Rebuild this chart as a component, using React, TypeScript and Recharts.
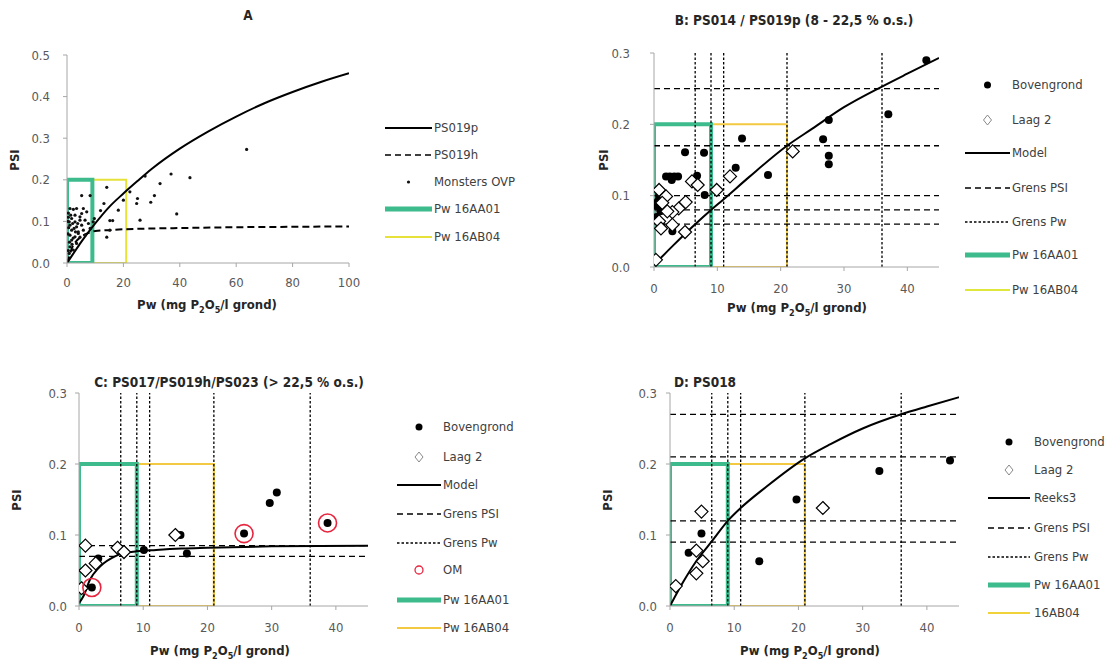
import React from 'react';
import { ComposedChart, XAxis, YAxis, Line, Scatter, ReferenceLine } from 'recharts';

const FONT = "'Liberation Sans Narrow','Arial Narrow','DejaVu Sans Condensed',sans-serif";
const GREEN = '#3dbb8c';
const YELLOW_A = '#e6e23a';
const YELLOW = '#f2c940';
const AXIS = '#a6a6a6';

// ---------- shared limits ----------
const PW_16AA01 = 9;
const PW_16AB04 = 21;
const PSI_BOX = 0.2;
const grensPw = [6.5, 9, 11, 21, 36];

// ---------- Panel A ----------
const aXTicks = [0, 20, 40, 60, 80, 100];
const aYTicks = [0, 0.1, 0.2, 0.3, 0.4, 0.5];
const aPS019pX = [0, 2, 5, 10, 15, 20, 25, 30, 40, 50, 60, 70, 80, 90, 100];
const aPS019pY = [0, 0.02, 0.05, 0.095, 0.135, 0.167, 0.197, 0.226, 0.275, 0.316, 0.352, 0.384, 0.411, 0.435, 0.456];
const aPS019hX = [0, 0.7, 1.7, 3, 5, 8, 10, 15, 20, 30, 40, 60, 80, 100];
const aPS019hY = [0, 0.013, 0.035, 0.05, 0.063, 0.073, 0.077, 0.079, 0.081, 0.083, 0.084, 0.086, 0.087, 0.088];
const aMonsters: [number, number][] = [
  [14.1, 0.182], [5.2, 0.162], [8.2, 0.162], [27.7, 0.209], [36.9, 0.214], [43.6, 0.205], [33, 0.191],
  [22.3, 0.171], [25, 0.155], [24.7, 0.143], [31, 0.162], [29.7, 0.146], [20, 0.151], [13.1, 0.143],
  [18.2, 0.127], [11.9, 0.126], [15.2, 0.102], [16.2, 0.102], [25.9, 0.103], [38.9, 0.118], [14.1, 0.062],
  [15.2, 0.079], [9.7, 0.107], [9.3, 0.099], [63.7, 0.273],
  [1.06, 0.131], [2.25, 0.129], [3.4, 0.131], [5.8, 0.131], [7.0, 0.123], [2.84, 0.115], [4.6, 0.111],
  [1.65, 0.107], [0.8, 0.099], [2.84, 0.099], [4.6, 0.103], [6.4, 0.103], [1.06, 0.091], [3.4, 0.087],
  [5.2, 0.091], [7.6, 0.095], [1.65, 0.079], [4.0, 0.075], [5.8, 0.079], [8.2, 0.083], [1.06, 0.067],
  [2.84, 0.063], [4.6, 0.062], [6.4, 0.067], [1.65, 0.055], [3.4, 0.047], [1.06, 0.039], [2.25, 0.031],
  [0.8, 0.023], [4.0, 0.071], [2.5, 0.083], [5.2, 0.119], [0.5, 0.11], [0.5, 0.12], [0.3, 0.1],
  [0.6, 0.085], [0.4, 0.07], [1.3, 0.115], [2, 0.095], [3, 0.075], [3.8, 0.095], [0.9, 0.05],
  [1.8, 0.045], [0.5, 0.03], [2.2, 0.06],
];

// ---------- Panel B ----------
const bXTicks = [0, 10, 20, 30, 40];
const psiTicks = [0, 0.1, 0.2, 0.3];
const bModelX = [0, 3, 6.5, 9, 11, 15, 21, 25, 30, 36, 40, 45];
const bModelY = [0.003, 0.03, 0.06, 0.08, 0.095, 0.126, 0.17, 0.194, 0.224, 0.253, 0.271, 0.293];
const bGrensPsi = [0.06, 0.08, 0.1, 0.17, 0.25];
const bBovengrond: [number, number][] = [
  [43, 0.29], [37, 0.214], [27.6, 0.206], [26.7, 0.179], [27.6, 0.156], [27.6, 0.144], [13.9, 0.18],
  [18, 0.129], [12.9, 0.139], [4.9, 0.161], [7.9, 0.16], [6.8, 0.128], [8.0, 0.101], [1.9, 0.127],
  [2.5, 0.127], [3.2, 0.127], [3.8, 0.127], [2.8, 0.122], [2.9, 0.05], [0.6, 0.092], [0.8, 0.1],
  [1.2, 0.105], [0.5, 0.085], [1.0, 0.078], [0.4, 0.07], [1.5, 0.088], [1.8, 0.097], [1.1, 0.059],
];
const bLaag2: [number, number][] = [
  [0.3, 0.01], [4.9, 0.049], [6.0, 0.12], [6.9, 0.115], [9.9, 0.108], [12.0, 0.127], [21.9, 0.162],
  [5.0, 0.091], [3.9, 0.082], [2.9, 0.077], [0.8, 0.108], [1.9, 0.099], [0.8, 0.064], [1.1, 0.054],
  [2.9, 0.059], [2.1, 0.078], [1.3, 0.09],
];

// ---------- Panel C ----------
const cModelX = [0, 0.7, 1.7, 3, 3.8, 5, 6.4, 9, 12, 16, 20, 30, 45];
const cModelY = [0.004, 0.014, 0.037, 0.053, 0.06, 0.067, 0.073, 0.077, 0.079, 0.081, 0.082, 0.084, 0.085];
const cGrensPsi = [0.07, 0.085];
const cBovengrond: [number, number][] = [
  [2.0, 0.026], [3.0, 0.067], [10.1, 0.079], [15.8, 0.1], [16.8, 0.074], [25.7, 0.102],
  [29.7, 0.145], [30.8, 0.16], [38.7, 0.117],
];
const cLaag2: [number, number][] = [
  [1.0, 0.085], [1.0, 0.05], [0.4, 0.025], [2.6, 0.06], [6.0, 0.082], [7.0, 0.076], [15.0, 0.1],
];
const cOM: [number, number][] = [[2.0, 0.026], [25.7, 0.102], [38.7, 0.117]];

// ---------- Panel D ----------
const dModelX = [0, 2, 4, 6.5, 9, 11, 15, 21, 25, 30, 36, 40, 45];
const dModelY = [0, 0.033, 0.062, 0.091, 0.12, 0.138, 0.168, 0.208, 0.228, 0.25, 0.27, 0.281, 0.294];
const dGrensPsi = [0.09, 0.12, 0.21, 0.27];
const dBovengrond: [number, number][] = [
  [2.9, 0.075], [4.9, 0.102], [13.9, 0.063], [19.7, 0.15], [32.6, 0.19], [43.6, 0.205],
];
const dLaag2: [number, number][] = [
  [0.9, 0.028], [4.9, 0.133], [4.1, 0.078], [4.1, 0.046], [5.1, 0.063], [23.8, 0.138],
];

// ---------- helpers ----------
const toPts = (xs: number[], ys: number[]) => xs.map((x, i) => ({ x, y: ys[i] }));
const fromPairs = (arr: [number, number][]) => arr.map(([x, y]) => ({ x, y }));
const boxPath = (w: number, h: number) => [
  { x: 0, y: 0 }, { x: 0, y: h }, { x: w, y: h }, { x: w, y: 0 }, { x: 0, y: 0 },
];

const SmallDot = (p: any) => <circle cx={p.cx} cy={p.cy} r={1.6} fill="#111" />;
const Filled = (p: any) => <circle cx={p.cx} cy={p.cy} r={4} fill="#000" />;
const Diamond = (p: any) => {
  const s = 6.5;
  return (
    <path
      d={`M${p.cx},${p.cy - s}L${p.cx + s},${p.cy}L${p.cx},${p.cy + s}L${p.cx - s},${p.cy}Z`}
      fill="#fff" stroke="#000" strokeWidth={1.2}
    />
  );
};
const OmRing = (p: any) => <circle cx={p.cx} cy={p.cy} r={9} fill="none" stroke="#e8253f" strokeWidth={1.6} />;

const tickStyle = { fill: '#595959', fontSize: 13, fontFamily: FONT };

function xAxis(domain: number[], ticks: number[], margin: number) {
  return (
    <XAxis type="number" dataKey="x" domain={domain} ticks={ticks} allowDataOverflow interval={0}
      height={25} tickSize={4} tickMargin={margin} stroke={AXIS} tick={tickStyle} tickLine={{ stroke: AXIS }} />
  );
}
function yAxis(domain: number[], ticks: number[], margin: number) {
  return (
    <YAxis type="number" dataKey="y" domain={domain} ticks={ticks} allowDataOverflow interval={0}
      width={30} tickSize={4} tickMargin={margin} stroke={AXIS} tick={tickStyle} tickLine={{ stroke: AXIS }}
      tickFormatter={(v: number) => v.toFixed(1)} />
  );
}
function box(w: number, color: string, sw: number, key: string) {
  return (
    <Line key={key} data={boxPath(w, PSI_BOX)} dataKey="y" type="linear" stroke={color} strokeWidth={sw}
      dot={false} activeDot={false} isAnimationActive={false} legendType="none" />
  );
}
function curve(data: { x: number; y: number }[], dash: string | undefined, key: string) {
  return (
    <Line key={key} data={data} dataKey="y" type="monotone" stroke="#000" strokeWidth={2}
      strokeDasharray={dash} dot={false} activeDot={false} isAnimationActive={false} legendType="none" />
  );
}
function pwLines(prefix: string) {
  return grensPw.map((v, i) => (
    <ReferenceLine key={prefix + 'pw' + i} x={v} stroke="#000" strokeWidth={1.3} strokeDasharray="2.5 2" />
  ));
}
function psiLines(vals: number[], prefix: string) {
  return vals.map((v, i) => (
    <ReferenceLine key={prefix + 'psi' + i} y={v} stroke="#000" strokeWidth={1.3} strokeDasharray="6 4" />
  ));
}
function scatter(data: { x: number; y: number }[], shape: any, key: string) {
  return <Scatter key={key} data={data} dataKey="y" shape={shape} isAnimationActive={false} legendType="none" />;
}

// ---------- legend ----------
type LegItem = { kind: string; label: string; color?: string };
function Legend2({ items, x0, x1, tx, ys }: { items: LegItem[]; x0: number; x1: number; tx: number; ys: number[] }) {
  const w = x1 - x0;
  const mid = w / 2;
  return (
    <>
      {items.map((it, i) => {
        let sw: React.ReactNode = null;
        if (it.kind === 'solid') sw = <line x1={0} y1={8} x2={w} y2={8} stroke="#000" strokeWidth={2} />;
        if (it.kind === 'dash') sw = <line x1={0} y1={8} x2={w} y2={8} stroke="#000" strokeWidth={1.5} strokeDasharray="6 4" />;
        if (it.kind === 'dotted') sw = <line x1={0} y1={8} x2={w} y2={8} stroke="#000" strokeWidth={1.5} strokeDasharray="2.5 2" />;
        if (it.kind === 'green') sw = <line x1={0} y1={8} x2={w} y2={8} stroke={GREEN} strokeWidth={5} />;
        if (it.kind === 'yellow') sw = <line x1={0} y1={8} x2={w} y2={8} stroke={it.color} strokeWidth={2.2} />;
        if (it.kind === 'smalldot') sw = <circle cx={mid} cy={8} r={1.6} fill="#111" />;
        if (it.kind === 'circle') sw = <circle cx={mid} cy={8} r={3.5} fill="#000" />;
        if (it.kind === 'diamond')
          sw = <path d={`M${mid},3L${mid + 4},8L${mid},13L${mid - 4},8Z`} fill="#fff" stroke="#888" strokeWidth={1} />;
        if (it.kind === 'om') sw = <circle cx={mid} cy={8} r={4} fill="none" stroke="#e8253f" strokeWidth={1.3} />;
        return (
          <React.Fragment key={i}>
            <svg style={{ position: 'absolute', left: x0, top: ys[i] - 8 }} width={w} height={16}>{sw}</svg>
            <div style={{ position: 'absolute', left: tx, top: ys[i] - 9, fontSize: 13, lineHeight: '18px', color: '#404040', fontFamily: FONT, whiteSpace: 'nowrap' }}>
              {it.label}
            </div>
          </React.Fragment>
        );
      })}
    </>
  );
}

const PwLabel = ({ cx, cy }: { cx: number; cy: number }) => (
  <div style={{ position: 'absolute', left: cx - 100, top: cy - 10, width: 200, textAlign: 'center', fontWeight: 'bold', fontSize: 13, lineHeight: '18px', color: '#262626', fontFamily: FONT, whiteSpace: 'nowrap' }}>
    Pw (mg P<sub style={{ fontSize: 9 }}>2</sub>O<sub style={{ fontSize: 9 }}>5</sub>/l grond)
  </div>
);
const PsiLabel = ({ cx, cy }: { cx: number; cy: number }) => (
  <div style={{ position: 'absolute', left: cx - 20, top: cy - 9, width: 40, textAlign: 'center', fontWeight: 'bold', fontSize: 13, lineHeight: '18px', color: '#262626', fontFamily: FONT, transform: 'rotate(-90deg)' }}>
    PSI
  </div>
);
const Title = ({ cx, cy, text }: { cx: number; cy: number; text: string }) => (
  <div style={{ position: 'absolute', left: cx - 200, top: cy - 10, width: 400, textAlign: 'center', fontWeight: 'bold', fontSize: 13.5, lineHeight: '20px', color: '#262626', fontFamily: FONT, whiteSpace: 'nowrap' }}>
    {text}
  </div>
);

export default function App() {
  const chartStyle = (left: number, top: number): React.CSSProperties => ({ position: 'absolute', left, top });
  return (
    <div style={{ position: 'absolute', left: 0, top: 0, width: 1113, height: 664, background: '#fff', overflow: 'hidden', fontFamily: FONT }}>
      {/* Panel A */}
      <div style={chartStyle(0, 0)}>
        <ComposedChart width={360} height={300} margin={{ top: 55, right: 11, bottom: 12, left: 37 }}>
          {xAxis([0, 100], aXTicks, 11)}
          {yAxis([0, 0.5], aYTicks, 13)}
          {box(PW_16AB04, YELLOW_A, 2, 'ay')}
          {box(PW_16AA01, GREEN, 4, 'ag')}
          {curve(toPts(aPS019pX, aPS019pY), undefined, 'ap')}
          {curve(toPts(aPS019hX, aPS019hY), '7 4', 'ah')}
          {scatter(fromPairs(aMonsters), SmallDot, 'am')}
        </ComposedChart>
      </div>
      {/* Panel B */}
      <div style={chartStyle(560, 0)}>
        <ComposedChart width={400} height={300} margin={{ top: 53, right: 21, bottom: 8, left: 64 }}>
          {xAxis([0, 45], bXTicks, 13)}
          {yAxis([0, 0.3], psiTicks, 20)}
          {box(PW_16AB04, YELLOW, 2, 'by')}
          {box(PW_16AA01, GREEN, 4, 'bg')}
          {psiLines(bGrensPsi, 'b')}
          {pwLines('b')}
          {curve(toPts(bModelX, bModelY), undefined, 'bm')}
          {scatter(fromPairs(bBovengrond), Filled, 'bb')}
          {scatter(fromPairs(bLaag2), Diamond, 'bl')}
        </ComposedChart>
      </div>
      {/* Panel C */}
      <div style={chartStyle(0, 340)}>
        <ComposedChart width={400} height={300} margin={{ top: 53, right: 32, bottom: 9, left: 49 }}>
          {xAxis([0, 45], bXTicks, 13)}
          {yAxis([0, 0.3], psiTicks, 8)}
          {box(PW_16AB04, YELLOW, 2.2, 'cy')}
          {box(PW_16AA01, GREEN, 4, 'cg')}
          {psiLines(cGrensPsi, 'c')}
          {pwLines('c')}
          {curve(toPts(cModelX, cModelY), undefined, 'cm')}
          {scatter(fromPairs(cBovengrond), Filled, 'cb')}
          {scatter(fromPairs(cLaag2), Diamond, 'cl')}
          {scatter(fromPairs(cOM), OmRing, 'co')}
        </ComposedChart>
      </div>
      {/* Panel D */}
      <div style={chartStyle(580, 340)}>
        <ComposedChart width={400} height={300} margin={{ top: 53, right: 21, bottom: 9, left: 60 }}>
          {xAxis([0, 45], bXTicks, 13)}
          {yAxis([0, 0.3], psiTicks, 9)}
          {box(PW_16AB04, YELLOW, 2.2, 'dy')}
          {box(PW_16AA01, GREEN, 4, 'dg')}
          {psiLines(dGrensPsi, 'd')}
          {pwLines('d')}
          {curve(toPts(dModelX, dModelY), undefined, 'dm')}
          {scatter(fromPairs(dBovengrond), Filled, 'db')}
          {scatter(fromPairs(dLaag2), Diamond, 'dl')}
        </ComposedChart>
      </div>

      <Title cx={248} cy={15} text="A" />
      <Title cx={794} cy={20} text="B: PS014 / PS019p (8 - 22,5 % o.s.)" />
      <Title cx={229} cy={382} text="C: PS017/PS019h/PS023 (> 22,5 % o.s.)" />
      <Title cx={705} cy={382} text="D: PS018" />

      <PsiLabel cx={15} cy={160} />
      <PsiLabel cx={604} cy={160} />
      <PsiLabel cx={17} cy={500} />
      <PsiLabel cx={608} cy={500} />

      <PwLabel cx={207} cy={306} />
      <PwLabel cx={797} cy={309} />
      <PwLabel cx={220} cy={652} />
      <PwLabel cx={810} cy={652} />

      <Legend2
        x0={385} x1={432} tx={434} ys={[128, 155, 182, 209, 237]}
        items={[
          { kind: 'solid', label: 'PS019p' },
          { kind: 'dash', label: 'PS019h' },
          { kind: 'smalldot', label: 'Monsters OVP' },
          { kind: 'green', label: 'Pw 16AA01' },
          { kind: 'yellow', label: 'Pw 16AB04', color: YELLOW_A },
        ]}
      />
      <Legend2
        x0={965} x1={1010} tx={1012} ys={[85, 120, 153, 188, 222, 255, 290]}
        items={[
          { kind: 'circle', label: 'Bovengrond' },
          { kind: 'diamond', label: 'Laag 2' },
          { kind: 'solid', label: 'Model' },
          { kind: 'dash', label: 'Grens PSI' },
          { kind: 'dotted', label: 'Grens Pw' },
          { kind: 'green', label: 'Pw 16AA01' },
          { kind: 'yellow', label: 'Pw 16AB04', color: '#dfe83a' },
        ]}
      />
      <Legend2
        x0={397} x1={441} tx={443} ys={[427, 457, 485, 514, 543, 570, 600, 628]}
        items={[
          { kind: 'circle', label: 'Bovengrond' },
          { kind: 'diamond', label: 'Laag 2' },
          { kind: 'solid', label: 'Model' },
          { kind: 'dash', label: 'Grens PSI' },
          { kind: 'dotted', label: 'Grens Pw' },
          { kind: 'om', label: 'OM' },
          { kind: 'green', label: 'Pw 16AA01' },
          { kind: 'yellow', label: 'Pw 16AB04', color: YELLOW },
        ]}
      />
      <Legend2
        x0={988} x1={1030} tx={1034} ys={[442, 470, 498, 528, 557, 585, 613]}
        items={[
          { kind: 'circle', label: 'Bovengrond' },
          { kind: 'diamond', label: 'Laag 2' },
          { kind: 'solid', label: 'Reeks3' },
          { kind: 'dash', label: 'Grens PSI' },
          { kind: 'dotted', label: 'Grens Pw' },
          { kind: 'green', label: 'Pw 16AA01' },
          { kind: 'yellow', label: '16AB04', color: '#f0d23a' },
        ]}
      />
    </div>
  );
}
